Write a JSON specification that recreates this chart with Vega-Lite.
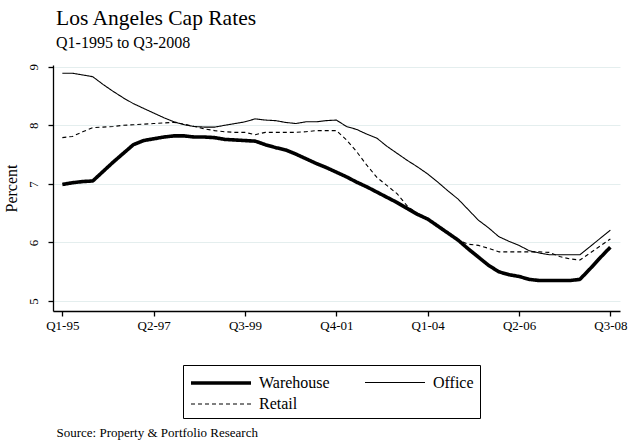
{
  "$schema": "https://vega.github.io/schema/vega-lite/v6.json",
  "autosize": {"type": "none"},
  "width": 567,
  "height": 246,
  "padding": {"left": 53, "top": 65, "right": 10, "bottom": 129},
  "background": "white",
  "title": {
    "text": "Los Angeles Cap Rates",
    "subtitle": "Q1-1995 to Q3-2008",
    "anchor": "start",
    "frame": "group",
    "dx": 3,
    "offset": 13,
    "font": "Liberation Serif",
    "fontSize": 21.5,
    "fontWeight": "normal",
    "color": "black",
    "subtitleFont": "Liberation Serif",
    "subtitleFontSize": 16,
    "subtitleColor": "black",
    "subtitlePadding": 5
  },
  "data": {
    "values": [
      {"q": "Q1-95", "t": 0, "Warehouse": 6.99, "Office": 8.89, "Retail": 7.79},
      {"q": "Q2-95", "t": 1, "Warehouse": 7.02, "Office": 8.89, "Retail": 7.81},
      {"q": "Q3-95", "t": 2, "Warehouse": 7.04, "Office": 8.86, "Retail": 7.89},
      {"q": "Q4-95", "t": 3, "Warehouse": 7.05, "Office": 8.83, "Retail": 7.96},
      {"q": "Q1-96", "t": 4, "Warehouse": 7.21, "Office": 8.70, "Retail": 7.97},
      {"q": "Q2-96", "t": 5, "Warehouse": 7.37, "Office": 8.58, "Retail": 7.98},
      {"q": "Q3-96", "t": 6, "Warehouse": 7.52, "Office": 8.47, "Retail": 8.00},
      {"q": "Q4-96", "t": 7, "Warehouse": 7.67, "Office": 8.37, "Retail": 8.01},
      {"q": "Q1-97", "t": 8, "Warehouse": 7.74, "Office": 8.29, "Retail": 8.02},
      {"q": "Q2-97", "t": 9, "Warehouse": 7.77, "Office": 8.21, "Retail": 8.03},
      {"q": "Q3-97", "t": 10, "Warehouse": 7.80, "Office": 8.13, "Retail": 8.04},
      {"q": "Q4-97", "t": 11, "Warehouse": 7.82, "Office": 8.06, "Retail": 8.05},
      {"q": "Q1-98", "t": 12, "Warehouse": 7.82, "Office": 8.01, "Retail": 8.02},
      {"q": "Q2-98", "t": 13, "Warehouse": 7.80, "Office": 7.98, "Retail": 7.98},
      {"q": "Q3-98", "t": 14, "Warehouse": 7.80, "Office": 7.97, "Retail": 7.94},
      {"q": "Q4-98", "t": 15, "Warehouse": 7.79, "Office": 7.97, "Retail": 7.91},
      {"q": "Q1-99", "t": 16, "Warehouse": 7.76, "Office": 8.00, "Retail": 7.89},
      {"q": "Q2-99", "t": 17, "Warehouse": 7.75, "Office": 8.03, "Retail": 7.88},
      {"q": "Q3-99", "t": 18, "Warehouse": 7.74, "Office": 8.06, "Retail": 7.88},
      {"q": "Q4-99", "t": 19, "Warehouse": 7.73, "Office": 8.11, "Retail": 7.84},
      {"q": "Q1-00", "t": 20, "Warehouse": 7.67, "Office": 8.09, "Retail": 7.88},
      {"q": "Q2-00", "t": 21, "Warehouse": 7.62, "Office": 8.08, "Retail": 7.88},
      {"q": "Q3-00", "t": 22, "Warehouse": 7.58, "Office": 8.05, "Retail": 7.88},
      {"q": "Q4-00", "t": 23, "Warehouse": 7.51, "Office": 8.03, "Retail": 7.88},
      {"q": "Q1-01", "t": 24, "Warehouse": 7.43, "Office": 8.06, "Retail": 7.89},
      {"q": "Q2-01", "t": 25, "Warehouse": 7.35, "Office": 8.06, "Retail": 7.91},
      {"q": "Q3-01", "t": 26, "Warehouse": 7.28, "Office": 8.08, "Retail": 7.91},
      {"q": "Q4-01", "t": 27, "Warehouse": 7.20, "Office": 8.09, "Retail": 7.91},
      {"q": "Q1-02", "t": 28, "Warehouse": 7.12, "Office": 7.98, "Retail": 7.75},
      {"q": "Q2-02", "t": 29, "Warehouse": 7.03, "Office": 7.93, "Retail": 7.55},
      {"q": "Q3-02", "t": 30, "Warehouse": 6.95, "Office": 7.85, "Retail": 7.32},
      {"q": "Q4-02", "t": 31, "Warehouse": 6.86, "Office": 7.78, "Retail": 7.11},
      {"q": "Q1-03", "t": 32, "Warehouse": 6.77, "Office": 7.64, "Retail": 6.97},
      {"q": "Q2-03", "t": 33, "Warehouse": 6.68, "Office": 7.52, "Retail": 6.83},
      {"q": "Q3-03", "t": 34, "Warehouse": 6.58, "Office": 7.40, "Retail": 6.62},
      {"q": "Q4-03", "t": 35, "Warehouse": 6.48, "Office": 7.29, "Retail": 6.49},
      {"q": "Q1-04", "t": 36, "Warehouse": 6.40, "Office": 7.17, "Retail": 6.40},
      {"q": "Q2-04", "t": 37, "Warehouse": 6.28, "Office": 7.03, "Retail": 6.28},
      {"q": "Q3-04", "t": 38, "Warehouse": 6.16, "Office": 6.88, "Retail": 6.16},
      {"q": "Q4-04", "t": 39, "Warehouse": 6.04, "Office": 6.74, "Retail": 6.04},
      {"q": "Q1-05", "t": 40, "Warehouse": 5.89, "Office": 6.56, "Retail": 5.97},
      {"q": "Q2-05", "t": 41, "Warehouse": 5.75, "Office": 6.38, "Retail": 5.95},
      {"q": "Q3-05", "t": 42, "Warehouse": 5.61, "Office": 6.25, "Retail": 5.90},
      {"q": "Q4-05", "t": 43, "Warehouse": 5.50, "Office": 6.10, "Retail": 5.84},
      {"q": "Q1-06", "t": 44, "Warehouse": 5.45, "Office": 6.02, "Retail": 5.84},
      {"q": "Q2-06", "t": 45, "Warehouse": 5.42, "Office": 5.95, "Retail": 5.84},
      {"q": "Q3-06", "t": 46, "Warehouse": 5.37, "Office": 5.86, "Retail": 5.84},
      {"q": "Q4-06", "t": 47, "Warehouse": 5.35, "Office": 5.82, "Retail": 5.84},
      {"q": "Q1-07", "t": 48, "Warehouse": 5.35, "Office": 5.79, "Retail": 5.83},
      {"q": "Q2-07", "t": 49, "Warehouse": 5.35, "Office": 5.79, "Retail": 5.76},
      {"q": "Q3-07", "t": 50, "Warehouse": 5.35, "Office": 5.79, "Retail": 5.72},
      {"q": "Q4-07", "t": 51, "Warehouse": 5.37, "Office": 5.79, "Retail": 5.70},
      {"q": "Q1-08", "t": 52, "Warehouse": 5.55, "Office": 5.93, "Retail": 5.82},
      {"q": "Q2-08", "t": 53, "Warehouse": 5.74, "Office": 6.07, "Retail": 5.94},
      {"q": "Q3-08", "t": 54, "Warehouse": 5.92, "Office": 6.21, "Retail": 6.06}
    ]
  },
  "transform": [
    {"fold": ["Warehouse", "Office", "Retail"], "as": ["series", "rate"]}
  ],
  "mark": {"type": "line", "color": "black", "strokeJoin": "round"},
  "encoding": {
    "x": {
      "field": "t",
      "type": "quantitative",
      "scale": {"domain": [-0.92, 54.95], "nice": false, "zero": false},
      "axis": {
        "values": [0, 9, 18, 27, 36, 45, 54],
        "labelExpr": "['Q1-95','Q2-97','Q3-99','Q4-01','Q1-04','Q2-06','Q3-08'][round(datum.value/9)]",
        "grid": false,
        "title": "Source: Property & Portfolio Research",
        "titleX": 3,
        "titleY": 125,
        "titleAlign": "left",
        "titleAnchor": "start",
        "titleBaseline": "alphabetic",
        "titleFont": "Liberation Serif",
        "titleFontSize": 13,
        "titleFontWeight": "normal",
        "titleColor": "black",
        "labelFont": "Liberation Serif",
        "labelFontSize": 13,
        "labelColor": "black",
        "labelPadding": 3,
        "tickSize": 5,
        "tickColor": "black",
        "tickWidth": 1.3,
        "domainColor": "black",
        "domainWidth": 1.3
      }
    },
    "y": {
      "field": "rate",
      "type": "quantitative",
      "scale": {"domain": [4.83, 9.03], "nice": false, "zero": false},
      "axis": {
        "values": [5, 6, 7, 8, 9],
        "title": "Percent",
        "titleFont": "Liberation Serif",
        "titleFontSize": 16,
        "titleFontWeight": "normal",
        "titleColor": "black",
        "titlePadding": 8,
        "labelAngle": -90,
        "labelAlign": "center",
        "labelBaseline": "alphabetic",
        "labelPadding": 11,
        "labelFont": "Liberation Serif",
        "labelFontSize": 13,
        "labelColor": "black",
        "grid": true,
        "gridColor": "#e4eeee",
        "gridWidth": 1,
        "tickSize": 5,
        "tickColor": "black",
        "tickWidth": 1.3,
        "domainColor": "black",
        "domainWidth": 1.3
      }
    },
    "strokeWidth": {
      "field": "series",
      "type": "nominal",
      "scale": {"type": "ordinal", "domain": ["Warehouse", "Office", "Retail"], "range": [3.6, 1.1, 1.1]},
      "legend": {
        "title": null,
        "orient": "none",
        "legendX": 130,
        "legendY": 300,
        "direction": "horizontal",
        "columns": 2,
        "strokeColor": "black",
        "padding": 6,
        "symbolType": "M-1,0H5",
        "symbolSize": 400,
        "symbolStrokeColor": "black",
        "labelFont": "Liberation Serif",
        "labelFontSize": 16,
        "labelColor": "black",
        "labelOffset": 46,
        "columnPadding": 32,
        "rowPadding": 2
      }
    },
    "strokeDash": {
      "field": "series",
      "type": "nominal",
      "scale": {"domain": ["Warehouse", "Office", "Retail"], "range": [[1, 0], [1, 0], [4, 3]]},
      "legend": {
        "title": null,
        "orient": "none",
        "legendX": 130,
        "legendY": 300,
        "direction": "horizontal",
        "columns": 2,
        "strokeColor": "black",
        "padding": 6,
        "symbolType": "M-1,0H5",
        "symbolSize": 400,
        "symbolStrokeColor": "black",
        "labelFont": "Liberation Serif",
        "labelFontSize": 16,
        "labelColor": "black",
        "labelOffset": 46,
        "columnPadding": 32,
        "rowPadding": 2
      }
    }
  },
  "config": {"view": {"stroke": null}}
}
